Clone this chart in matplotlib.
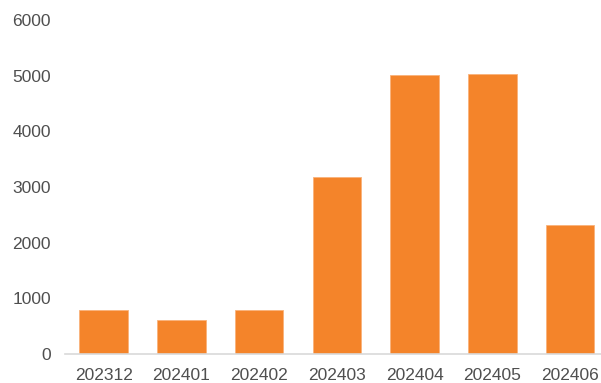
import matplotlib.pyplot as plt

months = ['202312', '202401', '202402', '202403', '202404', '202405', '202406']
values = [780, 600, 780, 3180, 5010, 5040, 2310]
yticks = [0, 1000, 2000, 3000, 4000, 5000, 6000]

plt.rcParams['font.family'] = ['Liberation Sans', 'DejaVu Sans']

fig = plt.figure(figsize=(6.01, 3.83), dpi=100)
# axes runs a bit past the right edge, like the cropped original
ax = fig.add_axes([0.108, 0.077, 0.905, 0.8695])

x = range(len(months))
ax.bar(x, values, width=0.625, color='#F4842A', edgecolor='#F9B27A', linewidth=0.6)

ax.set_xlim(-0.5, len(months) - 0.5)
ax.set_ylim(0, 6000)
ax.set_yticks(yticks)
ax.set_xticks(list(x))
ax.set_xticklabels(months)

for s in ['top', 'right', 'left']:
    ax.spines[s].set_visible(False)
ax.spines['bottom'].set_color('#D9D9D9')
ax.spines['bottom'].set_linewidth(1.2)

ax.tick_params(axis='both', length=0, colors='#4F4F4F', labelsize=12.5)
ax.tick_params(axis='y', pad=10)
ax.tick_params(axis='x', pad=10.5)

fig.savefig('out.png', dpi=100)
